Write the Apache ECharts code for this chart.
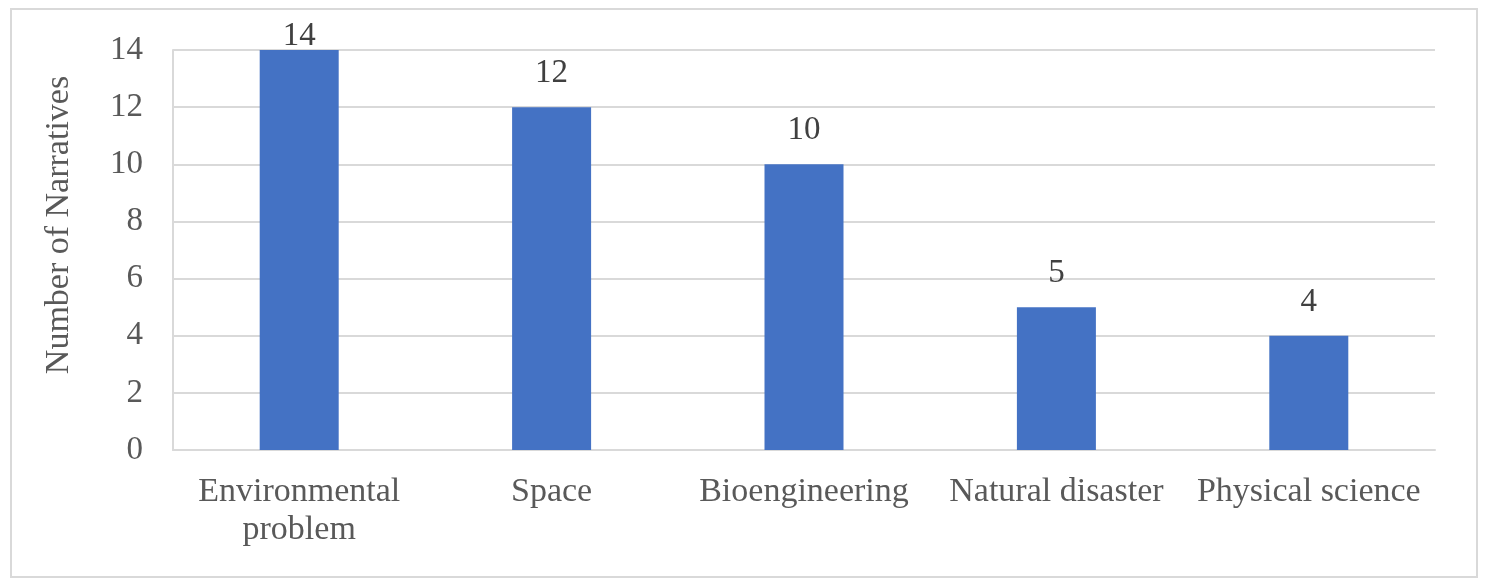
<!DOCTYPE html>
<html>
<head>
<meta charset="utf-8">
<script src="https://cdn.jsdelivr.net/npm/echarts@6/dist/echarts.min.js"></script>
<style>
  html, body { margin: 0; padding: 0; background: #ffffff; }
  #chart { width: 1488px; height: 586px; }
</style>
</head>
<body>
<div id="chart"></div>
<script>
// 分类
const categories = ['Environmental\nproblem', 'Space', 'Bioengineering', 'Natural disaster', 'Physical science']
// 叙事数量
const narrativeCounts = [14, 12, 10, 5, 4]
// y 轴刻度
const yTicks = { min: 0, max: 14, interval: 2 }

const fontFamily = '"Liberation Serif", "Times New Roman", serif'
const chart = echarts.init(document.getElementById('chart'))

const option = {
  backgroundColor: '#ffffff',
  animation: false,
  graphic: [
    {
      type: 'rect',
      shape: { x: 11, y: 9, width: 1466, height: 568 },
      style: { fill: 'none', stroke: '#d9d9d9', lineWidth: 2 },
      silent: true
    }
  ],
  grid: {
    left: 173,
    right: 53,
    top: 50,
    bottom: 136,
    containLabel: false
  },
  xAxis: {
    type: 'category',
    data: categories,
    axisTick: { show: false },
    axisLine: { lineStyle: { color: '#d9d9d9', width: 2 } },
    axisLabel: {
      margin: 23,
      fontSize: 34,
      lineHeight: 38,
      color: '#595959',
      fontFamily: fontFamily,
      interval: 0
    }
  },
  yAxis: {
    type: 'value',
    min: yTicks.min,
    max: yTicks.max,
    interval: yTicks.interval,
    name: 'Number of Narratives',
    nameLocation: 'middle',
    nameGap: 97,
    nameTextStyle: {
      fontSize: 34,
      color: '#595959',
      fontFamily: fontFamily,
      padding: [0, 0, 0, 50]
    },
    axisLine: { show: true, lineStyle: { color: '#d9d9d9', width: 2 } },
    axisTick: { show: false },
    splitLine: { lineStyle: { color: '#d9d9d9', width: 2 } },
    axisLabel: {
      margin: 30,
      fontSize: 33,
      color: '#595959',
      fontFamily: fontFamily
    }
  },
  series: [
    {
      type: 'bar',
      barWidth: 79,
      itemStyle: { color: '#4472C4' },
      label: {
        show: true,
        position: 'top',
        distance: 17,
        fontSize: 33,
        color: '#404040',
        fontFamily: fontFamily
      },
      data: narrativeCounts.map((v, i) => ({
        value: v,
        label: i === 0 ? { distance: -3 } : undefined
      }))
    }
  ]
}

chart.setOption(option, true)
addEventListener('resize', () => {
  chart.resize()
})
</script>
</body>
</html>
